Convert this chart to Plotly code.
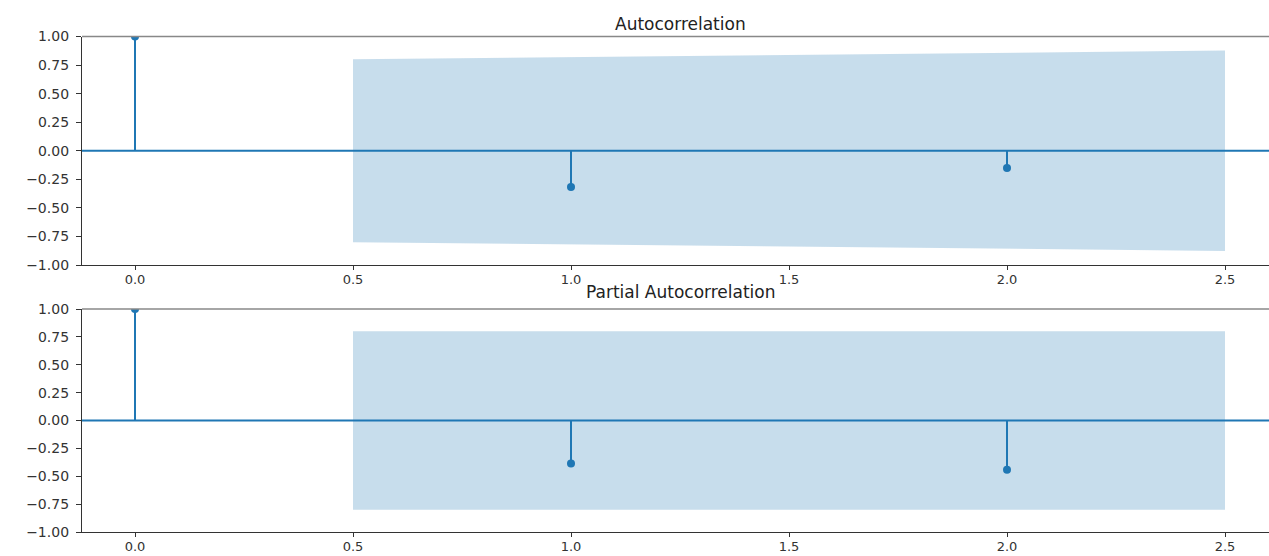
import plotly.graph_objects as go

# Correlogram values (lags 0..2)
lags = [0, 1, 2]
acf_values = [1.0, -0.318, -0.152]
pacf_values = [1.0, -0.386, -0.441]

# Confidence band: x positions (first/last lag widened by half a step) and half-widths
band_x = [0.5, 2.5]
acf_band = [0.800, 0.877]
pacf_band = [0.800, 0.800]

x_ticks = [0.0, 0.5, 1.0, 1.5, 2.0, 2.5]
x_ticktext = ["0.0", "0.5", "1.0", "1.5", "2.0", "2.5"]
y_ticks = [1.0, 0.75, 0.5, 0.25, 0.0, -0.25, -0.5, -0.75, -1.0]
y_ticktext = ["1.00", "0.75", "0.50", "0.25", "0.00",
              "\u22120.25", "\u22120.50", "\u22120.75", "\u22121.00"]

titles = ["Autocorrelation", "Partial Autocorrelation"]

C0 = "#1f77b4"
BAND = "rgba(31,119,180,0.25)"
W, H = 1269, 556
LEFT = 82

# plot areas in pixels (top, bottom)
panels = [(36.5, 265), (309, 532)]

fig = go.Figure()


def add_panel(idx, values, band):
    xa = "x" if idx == 0 else "x2"
    ya = "y" if idx == 0 else "y2"
    upper = band
    lower = [-b for b in band]
    # shaded confidence region
    fig.add_trace(go.Scatter(x=band_x, y=lower, mode="lines", line=dict(width=0),
                             hoverinfo="skip", showlegend=False, xaxis=xa, yaxis=ya))
    fig.add_trace(go.Scatter(x=band_x, y=upper, mode="lines", line=dict(width=0),
                             fill="tonexty", fillcolor=BAND,
                             hoverinfo="skip", showlegend=False, xaxis=xa, yaxis=ya))
    # stems
    sx, sy = [], []
    for lag, v in zip(lags, values):
        sx += [lag, lag, None]
        sy += [0, v, None]
    fig.add_trace(go.Scatter(x=sx, y=sy, mode="lines", line=dict(color=C0, width=2),
                             showlegend=False, xaxis=xa, yaxis=ya))
    # markers
    fig.add_trace(go.Scatter(x=lags, y=values, mode="markers",
                             marker=dict(color=C0, size=8, line=dict(width=0)),
                             cliponaxis=True, showlegend=False, xaxis=xa, yaxis=ya))


add_panel(0, acf_values, acf_band)
add_panel(1, pacf_values, pacf_band)

x_range = [(LEFT - 135) / 436, (W - 135) / 436]

axis_common_x = dict(range=x_range, tickmode="array", tickvals=x_ticks, ticktext=x_ticktext,
                     showgrid=False, zeroline=False, showline=True, linecolor="#333",
                     linewidth=1.3, ticks="outside", ticklen=4, tickwidth=1, tickcolor="#333",
                     automargin=False, ticklabelstandoff=-2,
                     tickfont=dict(family="DejaVu Sans", size=13, color="#333"))
axis_common_y = dict(range=[-1, 1], tickmode="array", tickvals=y_ticks, ticktext=y_ticktext,
                     showgrid=False, zeroline=False, showline=True, linecolor="#333",
                     linewidth=1.3, ticks="outside", ticklen=5, tickwidth=1, tickcolor="#333",
                     ticklabelstandoff=4, automargin=False,
                     tickfont=dict(family="DejaVu Sans", size=14, color="#333"))


def dom(top_px, bot_px):
    return [1 - bot_px / H, 1 - top_px / H]


fig.update_layout(
    width=W, height=H,
    margin=dict(l=LEFT, r=0, t=0, b=0),
    paper_bgcolor="white", plot_bgcolor="white",
    xaxis=dict(axis_common_x, domain=[0, 1], anchor="y"),
    yaxis=dict(axis_common_y, domain=dom(*panels[0]), anchor="x"),
    xaxis2=dict(axis_common_x, domain=[0, 1], anchor="y2"),
    yaxis2=dict(axis_common_y, domain=dom(*panels[1]), anchor="x2"),
)

shapes = []
for i, (top_px, bot_px) in enumerate(panels):
    xa = "x" if i == 0 else "x2"
    ya = "y" if i == 0 else "y2"
    # horizontal zero line across the panel
    shapes.append(dict(type="line", xref=f"{xa} domain", yref=ya, x0=0, x1=1, y0=0, y1=0,
                       line=dict(color=C0, width=1.8), layer="above"))
    # top frame edge
    shapes.append(dict(type="line", xref=f"{xa} domain", yref=f"{ya} domain",
                       x0=0, x1=1, y0=1, y1=1, line=dict(color="#888", width=1.5)))
fig.update_layout(shapes=shapes)

# panel titles
title_centers = [24, 292]
for t, cy in zip(titles, title_centers):
    fig.add_annotation(text=t, xref="paper", yref="paper", x=(681 - LEFT) / (W - LEFT),
                       y=1 - cy / H, xanchor="center", yanchor="middle", showarrow=False,
                       font=dict(family="DejaVu Sans", size=17, color="#222"))

fig.write_html("out.html")
